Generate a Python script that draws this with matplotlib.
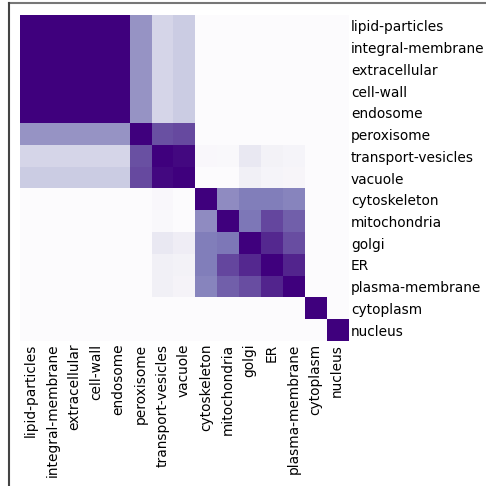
import numpy as np
import matplotlib
matplotlib.use("Agg")
import matplotlib.pyplot as plt
from matplotlib.lines import Line2D

labels = ["lipid-particles", "integral-membrane", "extracellular", "cell-wall",
          "endosome", "peroxisome", "transport-vesicles", "vacuole",
          "cytoskeleton", "mitochondria", "golgi", "ER", "plasma-membrane",
          "cytoplasm", "nucleus"]

# similarity matrix (Purples scale, 0..1)
sim = np.array([
    # lp   im    ec    cw    en    px    tv    va    cy    mi    go    er    pm    cp    nu
    [1.00, 1.00, 1.00, 1.00, 1.00, 0.53, 0.27, 0.31, 0.00, 0.00, 0.00, 0.00, 0.00, 0.00, 0.00],
    [1.00, 1.00, 1.00, 1.00, 1.00, 0.53, 0.27, 0.31, 0.00, 0.00, 0.00, 0.00, 0.00, 0.00, 0.00],
    [1.00, 1.00, 1.00, 1.00, 1.00, 0.53, 0.27, 0.31, 0.00, 0.00, 0.00, 0.00, 0.00, 0.00, 0.00],
    [1.00, 1.00, 1.00, 1.00, 1.00, 0.53, 0.27, 0.31, 0.00, 0.00, 0.00, 0.00, 0.00, 0.00, 0.00],
    [1.00, 1.00, 1.00, 1.00, 1.00, 0.53, 0.27, 0.31, 0.00, 0.00, 0.00, 0.00, 0.00, 0.00, 0.00],
    [0.53, 0.53, 0.53, 0.53, 0.53, 1.00, 0.75, 0.77, 0.00, 0.00, 0.00, 0.00, 0.00, 0.00, 0.00],
    [0.27, 0.27, 0.27, 0.27, 0.27, 0.75, 1.00, 0.97, 0.03, 0.02, 0.16, 0.08, 0.06, 0.00, 0.00],
    [0.31, 0.31, 0.31, 0.31, 0.31, 0.77, 0.97, 1.00, 0.00, 0.00, 0.10, 0.06, 0.05, 0.00, 0.00],
    [0.00, 0.00, 0.00, 0.00, 0.00, 0.00, 0.03, 0.00, 1.00, 0.56, 0.62, 0.62, 0.59, 0.00, 0.00],
    [0.00, 0.00, 0.00, 0.00, 0.00, 0.00, 0.02, 0.00, 0.56, 1.00, 0.64, 0.78, 0.71, 0.00, 0.00],
    [0.00, 0.00, 0.00, 0.00, 0.00, 0.00, 0.16, 0.12, 0.62, 0.64, 1.00, 0.87, 0.76, 0.00, 0.00],
    [0.00, 0.00, 0.00, 0.00, 0.00, 0.00, 0.10, 0.08, 0.62, 0.78, 0.87, 1.00, 0.88, 0.00, 0.00],
    [0.00, 0.00, 0.00, 0.00, 0.00, 0.00, 0.10, 0.07, 0.59, 0.71, 0.76, 0.88, 1.00, 0.00, 0.00],
    [0.00, 0.00, 0.00, 0.00, 0.00, 0.00, 0.00, 0.00, 0.00, 0.00, 0.00, 0.00, 0.00, 1.00, 0.00],
    [0.00, 0.00, 0.00, 0.00, 0.00, 0.00, 0.00, 0.00, 0.00, 0.00, 0.00, 0.00, 0.00, 0.00, 1.00],
])

fig = plt.figure(figsize=(4.86, 4.86), dpi=100)
ax = fig.add_axes([20/486, 1-341/486, 328/486, 326/486])
ax.imshow(sim, cmap="Purples", vmin=0, vmax=1, aspect="auto", interpolation="nearest")

ax.set_xticks(range(len(labels)))
ax.set_xticklabels(labels, rotation=90, fontsize=9.9)
ax.set_yticks(range(len(labels)))
ax.set_yticklabels(labels, fontsize=9.9)
ax.yaxis.tick_right()
ax.tick_params(length=0, pad=2)
for s in ax.spines.values():
    s.set_visible(False)

# frame lines of the surrounding panel
fig.add_artist(Line2D([8.5/486, 1], [1-3.5/486, 1-3.5/486], color="#777777", lw=1.5))
fig.add_artist(Line2D([8.5/486, 8.5/486], [0, 1-3.5/486], color="#444444", lw=1.5))

fig.savefig("out.png", dpi=100)
